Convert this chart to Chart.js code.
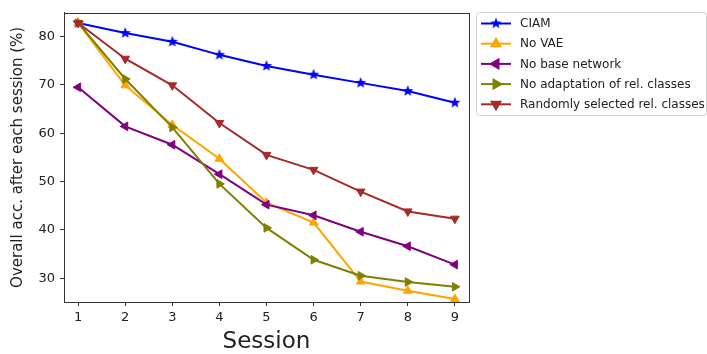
<!DOCTYPE html>
<html>
<head>
<meta charset="utf-8">
<script src="https://cdn.jsdelivr.net/npm/chart.js@4/dist/chart.umd.min.js"></script>
<style>
html,body{margin:0;padding:0;background:#fff;}
#wrap{width:707px;height:354px;position:relative;}
</style>
</head>
<body>
<div id="wrap"><canvas id="c" width="707" height="354"></canvas></div>
<script>
const sessions = [1, 2, 3, 4, 5, 6, 7, 8, 9];
const ciam = [82.8, 80.7, 78.9, 76.2, 73.9, 72.1, 70.4, 68.7, 66.3];
const noVae = [82.8, 69.9, 61.7, 54.7, 45.6, 41.5, 29.3, 27.4, 25.7];
const noBase = [69.5, 61.4, 57.6, 51.5, 45.2, 43.0, 39.6, 36.6, 32.8];
const noAdapt = [82.8, 71.2, 61.2, 49.5, 40.4, 33.8, 30.5, 29.2, 28.2];
const randomSel = [82.8, 75.4, 69.9, 62.1, 55.5, 52.4, 47.9, 43.8, 42.3];
const yTicks = [30, 40, 50, 60, 70, 80];
const seriesNames = ['CIAM', 'No VAE', 'No base network', 'No adaptation of rel. classes', 'Randomly selected rel. classes'];

function starImage(color, r) {
  const s = Math.ceil(r * 2 + 2);
  const cv = document.createElement('canvas');
  cv.width = s; cv.height = s;
  const g = cv.getContext('2d');
  g.beginPath();
  for (let i = 0; i < 10; i++) {
    const rad = i % 2 === 0 ? r : r * 0.42;
    const a = -Math.PI / 2 + i * Math.PI / 5;
    const x = s / 2 + rad * Math.cos(a), y = s / 2 + rad * Math.sin(a);
    if (i === 0) g.moveTo(x, y); else g.lineTo(x, y);
  }
  g.closePath();
  g.fillStyle = color; g.fill();
  return cv;
}

const styles = [
  {color: '#0000ff', style: starImage('#0000ff', 6), rot: 0},
  {color: '#ffa500', style: 'triangle', rot: 0},
  {color: '#800080', style: 'triangle', rot: -90},
  {color: '#808000', style: 'triangle', rot: 90},
  {color: '#a52a2a', style: 'triangle', rot: 180}
];
const values = [ciam, noVae, noBase, noAdapt, randomSel];

const datasets = values.map((vals, i) => ({
  label: seriesNames[i],
  data: sessions.map((s, j) => ({x: s, y: vals[j]})),
  borderColor: styles[i].color,
  backgroundColor: styles[i].color,
  pointBackgroundColor: styles[i].color,
  pointBorderColor: styles[i].color,
  borderWidth: 2,
  pointStyle: styles[i].style,
  pointRotation: styles[i].rot,
  pointRadius: 5,
  pointBorderWidth: 1,
  tension: 0,
  order: 5 - i
}));

const framePlugin = {
  id: 'frame',
  afterDraw(chart) {
    const {ctx, chartArea: a} = chart;
    ctx.save();
    ctx.strokeStyle = '#333';
    ctx.lineWidth = 1;
    ctx.strokeRect(Math.round(a.left) + 0.5, Math.round(a.top) + 0.5, Math.round(a.right - a.left), Math.round(a.bottom - a.top));
    // legend
    const lx = 476, ly = 12, lw = 230, lh = 103;
    ctx.fillStyle = 'rgba(255,255,255,0.8)';
    ctx.strokeStyle = '#d0d0d0';
    ctx.beginPath();
    if (ctx.roundRect) ctx.roundRect(lx + 0.5, ly + 0.5, lw, lh, 3); else ctx.rect(lx + 0.5, ly + 0.5, lw, lh);
    ctx.fill(); ctx.stroke();
    ctx.font = '12px "DejaVu Sans"';
    ctx.textBaseline = 'middle';
    ctx.textAlign = 'left';
    for (let i = 0; i < 5; i++) {
      const y = 23.5 + i * 20.2;
      ctx.strokeStyle = styles[i].color;
      ctx.lineWidth = 2;
      ctx.beginPath(); ctx.moveTo(481, y); ctx.lineTo(511, y); ctx.stroke();
      ctx.fillStyle = styles[i].color;
      Chart.helpers.drawPoint(ctx, {pointStyle: styles[i].style, rotation: styles[i].rot, radius: 5, borderWidth: 1}, 496, y);
      ctx.fillStyle = '#222';
      ctx.fillText(seriesNames[i], 520, y + 0.5);
    }
    ctx.restore();
  }
};

new Chart(document.getElementById('c'), {
  type: 'line',
  data: {datasets},
  plugins: [framePlugin],
  options: {
    responsive: false,
    animation: false,
    events: [],
    layout: {padding: {left: 0, right: 707 - 469, top: 11, bottom: 0}},
    plugins: {legend: {display: false}, tooltip: {enabled: false}},
    scales: {
      x: {
        type: 'linear',
        min: 0.7, max: 9.3,
        afterBuildTicks(scale) { scale.ticks = sessions.map(v => ({value: v})); },
        afterFit(scale) { scale.height = 52; },
        grid: {display: true, drawOnChartArea: false, drawTicks: true, tickLength: 4, color: '#333'},
        border: {display: true, color: '#333', width: 1},
        ticks: {color: '#222', font: {family: 'DejaVu Sans', size: 13}, padding: 4, maxRotation: 0},
        title: {display: true, text: 'Session', color: '#222', font: {family: 'DejaVu Sans', size: 23, lineHeight: 1}, padding: {top: 0, bottom: 0}}
      },
      y: {
        type: 'linear',
        min: 25.06, max: 84.9,
        afterBuildTicks(scale) { scale.ticks = yTicks.map(v => ({value: v})); },
        afterFit(scale) { scale.width = 64; },
        grid: {display: true, drawOnChartArea: false, drawTicks: true, tickLength: 4, color: '#333'},
        border: {display: true, color: '#333', width: 1},
        ticks: {color: '#222', font: {family: 'DejaVu Sans', size: 13}, padding: 5},
        title: {display: true, text: 'Overall acc. after each session (%)', color: '#222', font: {family: 'DejaVu Sans', size: 15, lineHeight: 1}, padding: {top: 11, bottom: 0}}
      }
    }
  }
});
</script>
</body>
</html>
